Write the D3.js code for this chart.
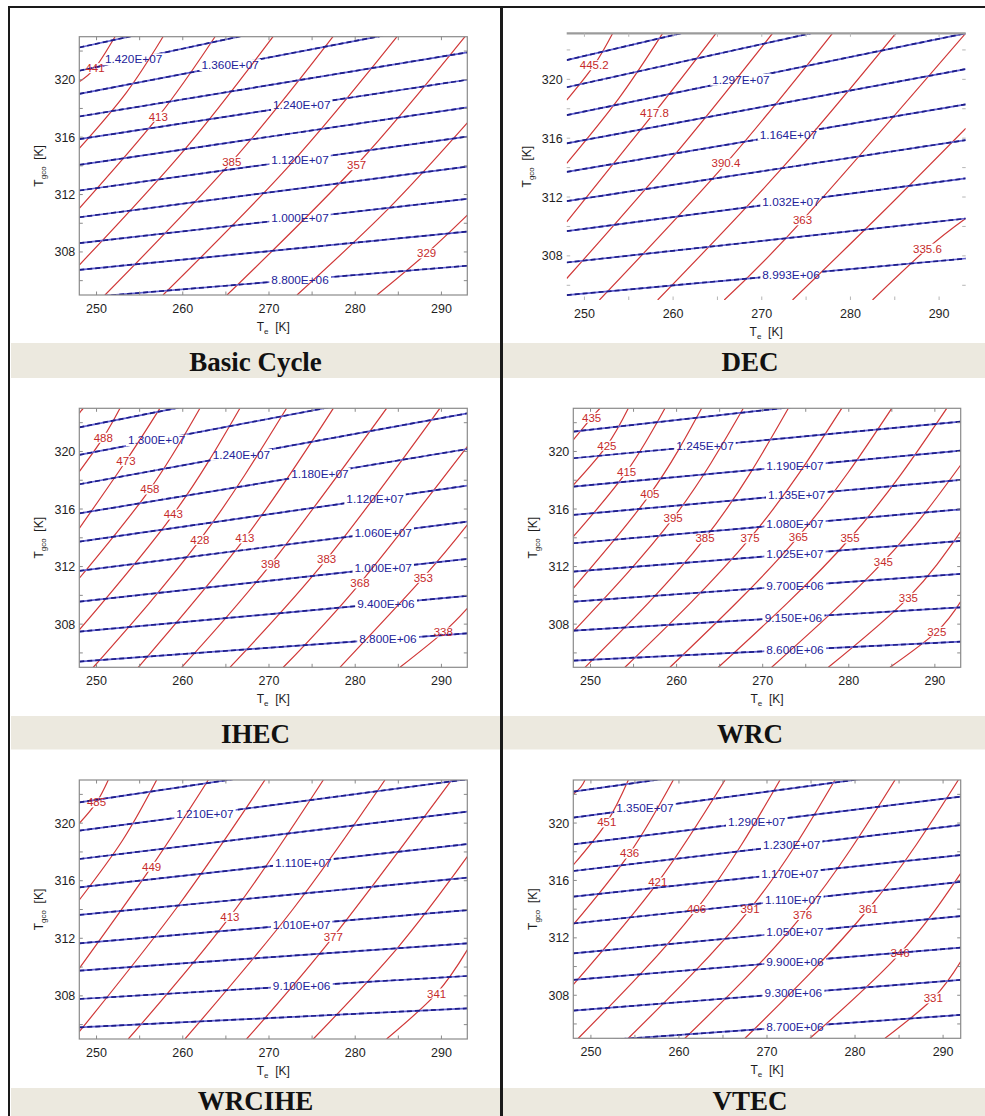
<!DOCTYPE html>
<html>
<head>
<meta charset="utf-8">
<script src="https://cdn.jsdelivr.net/npm/d3@7"></script>
<style>
  body { margin: 0; background: #fff; }
  svg { display: block; }
  .tick-label { font: 12.5px "Liberation Sans", Arial, sans-serif; fill: #1e1e1e; }
  .axis-label { font: 12px "Liberation Sans", Arial, sans-serif; fill: #1e1e1e; }
  .plab { font: 11.8px "Liberation Sans", Arial, sans-serif; fill: #23239a; }
  .tlab { font: 11.5px "Liberation Sans", Arial, sans-serif; fill: #c62a2a; }
  .title { font: bold 27px "Liberation Serif", "Times New Roman", serif; fill: #111; }
</style>
</head>
<body>
<script>
// ---------- shared axis values ----------
const panelTitles = ["Basic Cycle", "DEC", "IHEC", "WRC", "WRCIHE", "VTEC"];
const teTickLabels = [250, 260, 270, 280, 290];
const tgcoTickLabels = [308, 312, 316, 320];

// Pressure contours: [pressure (Pa), Tgco at left edge, Tgco at right edge]
// Pressure labels: [pressure, Te where the label sits]
// Temperature contours: [discharge temperature (K), [[Te, Tgco] entry, middle, exit]]
// Temperature labels: contours whose value is printed at their middle point

// ---------- Basic Cycle ----------
const basicPressure = [
  [8.8e6, 304.80, 307.04], [9.4e6, 306.75, 309.42], [1.0e7, 308.61, 311.70],
  [1.06e7, 310.42, 313.95], [1.12e7, 312.28, 316.04], [1.18e7, 314.07, 318.07],
  [1.24e7, 315.86, 320.00], [1.30e7, 317.44, 321.91], [1.36e7, 319.02, 324.20],
  [1.42e7, 320.63, 326.40], [1.48e7, 322.25, 328.10]
];
const basicPressureLabels = [[8.8e6, 273.6], [1.0e7, 273.6], [1.12e7, 273.6], [1.24e7, 273.8], [1.36e7, 265.5], [1.42e7, 254.3]];
const basicTemp = [
  [441, [[248, 319.86], [249.82, 320.82], [252.14, 323]]],
  [427, [[248, 315.22], [253.46, 319.11], [257.71, 323]]],
  [413, [[248, 311.04], [257.16, 317.43], [263.74, 323]]],
  [399, [[248, 307.09], [260.09, 315.05], [270.47, 323]]],
  [385, [[250.98, 305], [265.68, 314.29], [277.42, 323]]],
  [371, [[257.71, 305], [272.33, 314.0], [284.85, 323]]],
  [357, [[265.13, 305], [280.17, 314.06], [292.73, 323]]],
  [343, [[273.25, 305], [283.83, 311.0], [293, 316.99]]],
  [329, [[282.53, 305], [288.29, 307.91], [293, 310.57]]]
];
const basicTempLabels = [441, 413, 385, 357, 329];

// ---------- DEC ----------
const decPressure = [
  [8.993e6, 305.33, 307.82], [9.656e6, 307.55, 310.54], [1.0319e7, 309.68, 313.27],
  [1.0981e7, 311.72, 315.87], [1.1644e7, 313.71, 318.30], [1.2307e7, 315.65, 320.70],
  [1.297e7, 317.57, 323.13], [1.3633e7, 319.46, 325.46], [1.4296e7, 321.31, 327.66]
];
const decPressureLabels = [[8.993e6, 273.3], [1.0319e7, 273.3], [1.1644e7, 273.0], [1.297e7, 267.65]];
const decTemp = [
  [445.2, [[248, 318.59], [251.1, 320.97], [253.19, 323.13]]],
  [431.5, [[248, 314.29], [253.88, 318.71], [258.82, 323.13]]],
  [417.8, [[248, 310.31], [257.89, 317.73], [264.84, 323.13]]],
  [404.1, [[248, 306.46], [260.08, 314.8], [271.22, 323.13]]],
  [390.4, [[251.69, 305], [265.96, 314.29], [277.98, 323.13]]],
  [376.7, [[258.26, 305], [272.44, 314.06], [285.12, 323.13]]],
  [363, [[265.77, 305], [274.6, 310.43], [293, 323.13]]],
  [349.3, [[273.47, 305], [283.39, 310.83], [293, 316.67]]],
  [335.6, [[282.49, 305], [288.68, 308.5], [293, 310.54]]]
];
const decTempLabels = [445.2, 417.8, 390.4, 363, 335.6];

// ---------- IHEC ----------
const ihecPressure = [
  [8.8e6, 305.40, 307.36], [9.4e6, 307.48, 309.96], [1.0e7, 309.56, 312.53],
  [1.06e7, 311.70, 315.12], [1.12e7, 313.73, 317.63], [1.18e7, 315.70, 320.17],
  [1.24e7, 317.72, 322.65], [1.30e7, 319.76, 324.90], [1.36e7, 321.68, 327.00]
];
const ihecPressureLabels = [[8.8e6, 283.8], [9.4e6, 283.56], [1.0e7, 283.25], [1.06e7, 283.25], [1.12e7, 282.3], [1.18e7, 275.9], [1.24e7, 266.8], [1.30e7, 256.97]];
const ihecTemp = [
  [503, [[248, 322.65], [248.23, 322.83], [248.46, 323]]],
  [488, [[248, 318.6], [250.78, 320.96], [252.72, 323]]],
  [473, [[248, 314.66], [253.41, 319.34], [257.35, 323]]],
  [458, [[248, 311.19], [256.19, 317.37], [261.99, 323]]],
  [443, [[248, 307.6], [258.9, 315.63], [266.63, 323]]],
  [428, [[249.62, 305], [261.99, 313.85], [272.04, 323]]],
  [413, [[254.84, 305], [267.21, 313.97], [277.46, 323]]],
  [398, [[259.87, 305], [270.19, 312.16], [283.64, 323]]],
  [383, [[265.47, 305], [276.68, 312.51], [289.82, 323]]],
  [368, [[271.66, 305], [280.55, 310.84], [293, 320.34]]],
  [353, [[278.23, 305], [287.89, 311.23], [293, 314.89]]],
  [338, [[285.19, 305], [290.21, 307.43], [293, 309.1]]]
];
const ihecTempLabels = [488, 473, 458, 443, 428, 413, 398, 383, 368, 353, 338];

// ---------- WRC ----------
const wrcPressure = [
  [8.6e6, 305.46, 306.78], [9.15e6, 307.55, 309.17], [9.7e6, 309.56, 311.49],
  [1.025e7, 311.65, 313.78], [1.08e7, 313.62, 315.98], [1.135e7, 315.59, 318.02],
  [1.19e7, 317.56, 320.06], [1.245e7, 319.53, 322.07], [1.30e7, 321.38, 324.40]
];
const wrcPressureLabels = [[8.6e6, 273.75], [9.15e6, 273.56], [9.7e6, 273.75], [1.025e7, 273.75], [1.08e7, 273.75], [1.135e7, 273.95], [1.19e7, 273.75], [1.245e7, 263.3]];
const wrcTemp = [
  [435, [[248, 320.8], [250.13, 322.35], [251.1, 323]]],
  [425, [[248, 317.67], [251.9, 320.41], [254.39, 323]]],
  [415, [[248, 314.08], [254.2, 318.6], [258.65, 323]]],
  [405, [[248, 310.49], [256.9, 317.02], [262.91, 323]]],
  [395, [[248, 307.48], [259.6, 315.36], [267.75, 323]]],
  [385, [[249.36, 305], [263.3, 313.97], [272.98, 323]]],
  [375, [[254.0, 305], [268.53, 313.97], [279.18, 323]]],
  [365, [[259.23, 305], [274.14, 314.08], [284.99, 323]]],
  [355, [[264.85, 305], [280.15, 313.97], [291.38, 323]]],
  [345, [[271.04, 305], [284.02, 312.34], [293, 319.06]]],
  [335, [[277.63, 305], [286.92, 309.84], [293, 314.43]]],
  [325, [[284.79, 305], [290.22, 307.48], [293, 309.57]]]
];
const wrcTempLabels = [435, 425, 415, 405, 395, 385, 375, 365, 355, 345, 335, 325];

// ---------- WRCIHE ----------
const wrcihePressure = [
  [8.6e6, 305.81, 307.13], [9.1e6, 307.78, 309.38], [9.6e6, 309.75, 311.65],
  [1.01e7, 311.65, 313.96], [1.06e7, 313.62, 316.21], [1.11e7, 315.54, 318.55],
  [1.16e7, 317.51, 320.80], [1.21e7, 319.48, 323.05], [1.26e7, 321.45, 325.50]
];
const wrcihePressureLabels = [[9.1e6, 273.78], [1.01e7, 273.78], [1.11e7, 273.98], [1.21e7, 262.57]];
const wrciheTemp = [
  [485, [[248, 319.99], [250.0, 321.45], [251.36, 323]]],
  [467, [[248, 314.66], [253.04, 318.83], [256.97, 323]]],
  [449, [[248, 309.91], [256.39, 316.98], [262.96, 323]]],
  [431, [[248, 305.51], [259.47, 314.26], [269.53, 323]]],
  [413, [[253.68, 305], [265.47, 313.5], [276.3, 323]]],
  [395, [[260.25, 305], [272.75, 314.0], [283.45, 323]]],
  [377, [[267.4, 305], [277.46, 312.11], [291.18, 323]]],
  [359, [[275.14, 305], [284.92, 311.34], [293, 317.67]]],
  [341, [[283.64, 305], [289.44, 308.17], [293, 311.19]]]
];
const wrciheTempLabels = [485, 449, 413, 377, 341];

// ---------- VTEC ----------
const vtecPressure = [
  [8.7e6, 304.71, 306.63], [9.3e6, 306.93, 309.07], [9.9e6, 309.07, 311.32],
  [1.05e7, 310.92, 313.52], [1.11e7, 313.00, 315.90], [1.17e7, 314.87, 317.77],
  [1.23e7, 316.66, 319.86], [1.29e7, 318.52, 321.84], [1.35e7, 320.38, 324.00],
  [1.41e7, 322.19, 326.00]
];
const vtecPressureLabels = [[8.7e6, 273.18], [9.3e6, 272.99], [9.9e6, 273.18], [1.05e7, 273.18], [1.11e7, 272.99], [1.17e7, 272.61], [1.23e7, 272.8], [1.29e7, 268.83], [1.35e7, 256.14]];
const vtecTemp = [
  [466, [[248, 322.0], [248.85, 322.5], [249.33, 323]]],
  [451, [[248, 317.08], [251.8, 320.05], [254.25, 323]]],
  [436, [[248, 312.92], [254.4, 317.89], [259.36, 323]]],
  [421, [[248, 308.74], [257.6, 315.87], [265.23, 323]]],
  [406, [[248.57, 305], [262.01, 314.01], [271.48, 323]]],
  [391, [[254.25, 305], [268.07, 314.01], [277.72, 323]]],
  [376, [[260.68, 305], [274.05, 313.6], [284.54, 323]]],
  [361, [[267.5, 305], [281.51, 314.01], [291.73, 323]]],
  [346, [[274.88, 305], [285.11, 310.92], [292, 316.5]]],
  [331, [[283.4, 305], [288.89, 307.79], [292, 310.34]]]
];
const vtecTempLabels = [451, 436, 421, 406, 391, 376, 361, 346, 331];

// ---------- page layout ----------
const W = 985, H = 1116;
const svg = d3.select("body").append("svg").attr("width", W).attr("height", H);
const defs = svg.append("defs");
svg.append("rect").attr("width", W).attr("height", H).attr("fill", "#fff");

// title strips under each row
const rows = [
  { top: 343, bottom: 378, base: 370.5 },
  { top: 716, bottom: 749.5, base: 742.5 },
  { top: 1088, bottom: 1116, base: 1110 }
];
const cols = [
  { left: 11, right: 500, cx: 255.5 },
  { left: 503, right: 985, cx: 750 }
];
rows.forEach((r, ri) => {
  cols.forEach((c, ci) => {
    svg.append("rect")
      .attr("x", c.left).attr("y", r.top)
      .attr("width", c.right - c.left).attr("height", r.bottom - r.top)
      .attr("fill", "#ece9df");
    svg.append("text").attr("class", "title")
      .attr("x", c.cx).attr("y", r.base)
      .attr("text-anchor", "middle")
      .text(panelTitles[ri * 2 + ci]);
  });
});

// outer frame and column divider
svg.append("line").attr("x1", 9).attr("x2", 9).attr("y1", 6).attr("y2", H)
  .attr("stroke", "#1a1a1a").attr("stroke-width", 2);
svg.append("line").attr("x1", 8).attr("x2", W).attr("y1", 7).attr("y2", 7)
  .attr("stroke", "#1a1a1a").attr("stroke-width", 2);
svg.append("line").attr("x1", 501.5).attr("x2", 501.5).attr("y1", 6).attr("y2", H)
  .attr("stroke", "#1a1a1a").attr("stroke-width", 3);

const panels = [
  { pressure: basicPressure, pLab: basicPressureLabels, temp: basicTemp, tLab: basicTempLabels,
    x0: 79.3, x1: 467.3, y0: 36.7, y1: 295, te: [248, 293], tg: [305, 323], box: "full" },
  { pressure: decPressure, pLab: decPressureLabels, temp: decTemp, tLab: decTempLabels,
    x0: 566.7, x1: 965.7, y0: 33.3, y1: 300, te: [248, 293], tg: [305, 323.13], box: "top" },
  { pressure: ihecPressure, pLab: ihecPressureLabels, temp: ihecTemp, tLab: ihecTempLabels,
    x0: 79.3, x1: 467.3, y0: 408.3, y1: 667.3, te: [248, 293], tg: [305, 323], box: "full" },
  { pressure: wrcPressure, pLab: wrcPressureLabels, temp: wrcTemp, tLab: wrcTempLabels,
    x0: 573.3, x1: 960.7, y0: 408.3, y1: 667.3, te: [248, 293], tg: [305, 323], box: "full" },
  { pressure: wrcihePressure, pLab: wrcihePressureLabels, temp: wrciheTemp, tLab: wrciheTempLabels,
    x0: 79.3, x1: 467.3, y0: 780, y1: 1039, te: [248, 293], tg: [305, 323], box: "full" },
  { pressure: vtecPressure, pLab: vtecPressureLabels, temp: vtecTemp, tLab: vtecTempLabels,
    x0: 573.3, x1: 960.7, y0: 780, y1: 1038.3, te: [248, 292], tg: [305, 323], box: "full" }
];

// pressure in the E-notation used on the contour labels, e.g. 1.240E+07
function sci(v) {
  const e = Math.floor(Math.log10(v) + 1e-9);
  const m = v / Math.pow(10, e);
  return m.toFixed(3) + "E+" + String(e).padStart(2, "0");
}

// a mask that leaves a gap in a contour where its own label sits
function holeMask(id, box, w, h) {
  const m = defs.append("mask").attr("id", id)
    .attr("maskUnits", "userSpaceOnUse")
    .attr("x", -20).attr("y", -20).attr("width", w + 40).attr("height", h + 40);
  m.append("rect").attr("x", -20).attr("y", -20).attr("width", w + 40).attr("height", h + 40).attr("fill", "#fff");
  m.append("rect").attr("x", box.x - 2).attr("y", box.y + 1)
    .attr("width", box.width + 4).attr("height", box.height - 2).attr("fill", "#000");
}

panels.forEach((p, i) => {
  const w = p.x1 - p.x0, h = p.y1 - p.y0;
  const x = d3.scaleLinear().domain(p.te).range([0, w]);
  const y = d3.scaleLinear().domain(p.tg).range([h, 0]);
  const g = svg.append("g").attr("transform", `translate(${p.x0},${p.y0})`);

  defs.append("clipPath").attr("id", "clip" + i)
    .append("rect").attr("width", w).attr("height", h);

  g.append("rect").attr("width", w).attr("height", h).attr("fill", "#fff");
  const lineLayer = g.append("g").attr("clip-path", `url(#clip${i})`);
  const labelLayer = g.append("g");
  const axisLayer = g.append("g");

  // ---- contour labels (placed first so their boxes can cut the lines) ----
  const pBoxes = new Map();
  p.pLab.forEach(([v, te]) => {
    const row = p.pressure.find(r => r[0] === v);
    const tg = row[1] + (row[2] - row[1]) * (te - p.te[0]) / (p.te[1] - p.te[0]);
    const t = labelLayer.append("text").attr("class", "plab")
      .attr("x", x(te)).attr("y", y(tg)).attr("dy", "0.36em")
      .attr("text-anchor", "middle").text(sci(v));
    pBoxes.set(v, t.node().getBBox());
  });
  const tBoxes = new Map();
  p.tLab.forEach(v => {
    const mid = p.temp.find(r => r[0] === v)[1][1];
    const t = labelLayer.append("text").attr("class", "tlab")
      .attr("x", x(mid[0])).attr("y", y(mid[1])).attr("dy", "0.36em")
      .attr("text-anchor", "middle").text(String(v));
    tBoxes.set(v, t.node().getBBox());
  });

  const straight = d3.line().x(d => x(d[0])).y(d => y(d[1]));
  const curved = d3.line().x(d => x(d[0])).y(d => y(d[1])).curve(d3.curveNatural);

  // ---- temperature contours (red) ----
  p.temp.forEach((r, k) => {
    const path = lineLayer.append("path").attr("d", curved(r[1]))
      .attr("fill", "none").attr("stroke", "#d03838").attr("stroke-width", 1.2);
    if (tBoxes.has(r[0])) {
      const id = `tm${i}_${k}`;
      holeMask(id, tBoxes.get(r[0]), w, h);
      path.attr("mask", `url(#${id})`);
    }
  });

  // ---- pressure contours (blue) ----
  p.pressure.forEach((r, k) => {
    const pts = [[p.te[0], r[1]], [p.te[1], r[2]]];
    const grp = lineLayer.append("g");
    grp.append("path").attr("d", straight(pts))
      .attr("fill", "none").attr("stroke", "#6464d4").attr("stroke-width", 1.7);
    grp.append("path").attr("d", straight(pts))
      .attr("fill", "none").attr("stroke", "#1c1c86").attr("stroke-width", 1.7)
      .attr("stroke-dasharray", "5 3");
    if (pBoxes.has(r[0])) {
      const id = `pm${i}_${k}`;
      holeMask(id, pBoxes.get(r[0]), w, h);
      grp.attr("mask", `url(#${id})`);
    }
  });

  // ---- axes box and ticks ----
  const tickColor = p.box === "full" ? "#8a8a8a" : "#b5b5b5";
  if (p.box === "full") {
    axisLayer.append("rect").attr("width", w).attr("height", h)
      .attr("fill", "none").attr("stroke", "#8a8a8a").attr("stroke-width", 1.2);
  } else {
    axisLayer.append("line").attr("x1", 0).attr("x2", w).attr("y1", 0).attr("y2", 0)
      .attr("stroke", "#9b9b9b").attr("stroke-width", 2.2);
  }
  const xTicks = d3.range(250, p.te[1] + 0.01, 5);
  const yTicks = d3.range(306, 323, 2);
  xTicks.forEach(t => {
    axisLayer.append("line").attr("x1", x(t)).attr("x2", x(t)).attr("y1", h).attr("y2", h - 3.5)
      .attr("stroke", tickColor);
    axisLayer.append("line").attr("x1", x(t)).attr("x2", x(t)).attr("y1", 0).attr("y2", 3.5)
      .attr("stroke", tickColor);
  });
  yTicks.forEach(t => {
    axisLayer.append("line").attr("x1", 0).attr("x2", 3.5).attr("y1", y(t)).attr("y2", y(t))
      .attr("stroke", tickColor);
    axisLayer.append("line").attr("x1", w).attr("x2", w - 3.5).attr("y1", y(t)).attr("y2", y(t))
      .attr("stroke", tickColor);
  });

  teTickLabels.forEach(t => {
    axisLayer.append("text").attr("class", "tick-label")
      .attr("x", x(t)).attr("y", h + 13.5).attr("dy", "0.36em")
      .attr("text-anchor", "middle").text(t);
  });
  tgcoTickLabels.forEach(t => {
    axisLayer.append("text").attr("class", "tick-label")
      .attr("x", -4).attr("y", y(t)).attr("dy", "0.36em")
      .attr("text-anchor", "end").text(t);
  });

  // axis titles
  const xt = axisLayer.append("text").attr("class", "axis-label")
    .attr("x", w / 2).attr("y", h + 36).attr("text-anchor", "middle");
  xt.append("tspan").text("T");
  xt.append("tspan").attr("font-size", "8px").attr("dy", 3).text("e");
  xt.append("tspan").attr("dy", -3).text("\u00a0 [K]");

  const yt = axisLayer.append("text").attr("class", "axis-label")
    .attr("transform", `translate(-36,${h / 2}) rotate(-90)`).attr("text-anchor", "middle");
  yt.append("tspan").text("T");
  yt.append("tspan").attr("font-size", "8px").attr("dy", 3).text("gco");
  yt.append("tspan").attr("dy", -3).text("\u00a0 [K]");
});
</script>
</body>
</html>
